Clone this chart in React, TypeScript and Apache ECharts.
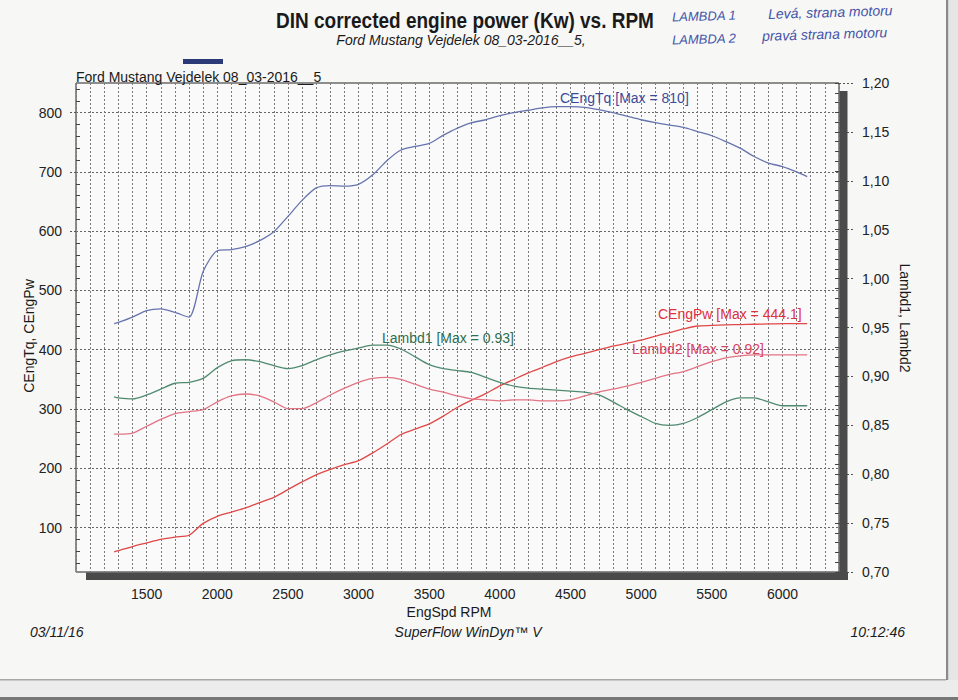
import React, { useEffect, useRef } from "react";
import * as echarts from "echarts";

// ---- data ----
const RPM = [
  1270, 1300, 1400, 1500, 1600, 1700, 1800, 1900, 2000, 2100, 2200, 2300, 2400,
  2500, 2600, 2700, 2800, 2900, 3000, 3100, 3200, 3300, 3400, 3500, 3600, 3700,
  3800, 3900, 4000, 4100, 4200, 4300, 4400, 4500, 4600, 4700, 4800, 4900, 5000,
  5100, 5200, 5300, 5400, 5500, 5600, 5700, 5800, 5900, 6000, 6100, 6175,
];
const CENG_TQ = [
  444, 446, 455, 466, 469, 463, 455, 532, 567, 569, 574, 584, 599, 625, 652, 673,
  677, 676, 679, 695, 719, 737, 743, 748, 762, 774, 783, 788, 795, 800, 804, 808,
  810, 810, 809, 805, 800, 794, 788, 783, 779, 775, 768, 761, 751, 740, 726, 715,
  709, 700, 692,
];
const CENG_PW = [
  59, 61, 68, 74, 80, 84, 87, 107, 119, 126, 133, 142, 151, 164, 177, 189, 198,
  206, 213, 226, 241, 257, 266, 275, 288, 303, 315, 326, 339, 350, 361, 370, 380,
  388, 394, 400, 406, 411, 416, 423, 429, 435, 440, 441, 442, 442.5, 443, 443.5,
  444, 444.1, 444.1,
];
const LAMBD1 = [
  0.879, 0.878, 0.877, 0.881, 0.887, 0.893, 0.894, 0.898, 0.909, 0.916, 0.917,
  0.915, 0.911, 0.908, 0.911, 0.917, 0.922, 0.926, 0.929, 0.932, 0.932, 0.928,
  0.92, 0.912, 0.908, 0.906, 0.904, 0.899, 0.894, 0.89, 0.888, 0.887, 0.886,
  0.885, 0.884, 0.881, 0.874, 0.866, 0.859, 0.852, 0.85, 0.852, 0.858, 0.866,
  0.874, 0.878, 0.878, 0.874, 0.87, 0.87, 0.87,
];
const LAMBD2 = [
  0.841, 0.841, 0.842, 0.849, 0.856, 0.862, 0.864, 0.866, 0.874, 0.88, 0.882,
  0.88, 0.874, 0.867, 0.867, 0.873, 0.881, 0.888, 0.894, 0.898, 0.899, 0.897,
  0.892, 0.887, 0.884, 0.88, 0.877, 0.876, 0.875, 0.876, 0.876, 0.875, 0.875,
  0.876, 0.88, 0.884, 0.887, 0.89, 0.894, 0.898, 0.902, 0.905, 0.91, 0.915,
  0.919, 0.921, 0.922, 0.922, 0.922, 0.922, 0.922,
];
const X_LABELS = [1500, 2000, 2500, 3000, 3500, 4000, 4500, 5000, 5500, 6000];
const LEFT_TICKS = [100, 200, 300, 400, 500, 600, 700, 800];
const LEFT_MINOR = [
  40, 60, 80, 120, 140, 160, 180, 220, 240, 260, 280, 320, 340, 360, 380, 420,
  440, 460, 480, 520, 540, 560, 580, 620, 640, 660, 680, 720, 740, 760, 780, 820,
  840,
];
const SERIES_LABELS = [
  "CEngTq [Max = 810]",
  "CEngPw [Max = 444.1]",
  "Lambd1 [Max = 0.93]",
  "Lambd2 [Max = 0.92]",
];

const FONT = "Liberation Sans, Arial, sans-serif";

const pairs = (ys: number[]) => RPM.map((x, i) => [x, ys[i]]);

const lineSeries = (name: string, ys: number[], color: string, yAxisIndex: number) => ({
  name,
  type: "line",
  data: pairs(ys),
  yAxisIndex,
  showSymbol: false,
  smooth: 0.25,
  lineStyle: { color, width: 1.3 },
  z: 5,
});

const text = (
  t: string,
  x: number,
  y: number,
  font: string,
  fill: string,
  align: string = "left",
  extra: any = {}
) => ({
  type: "text",
  x,
  y,
  silent: true,
  z: 20,
  ...extra,
  style: { text: t, font, fill, textAlign: align, textVerticalAlign: "middle" },
});

export default function App() {
  const ref = useRef<HTMLDivElement>(null);
  useEffect(() => {
    const el = ref.current;
    if (!el) return;
    const chart = echarts.init(el, null, { renderer: "svg" });
    const option: any = {
      animation: false,
      backgroundColor: "#f7f7f6",
      grid: {
        left: 76,
        top: 83,
        width: 763,
        height: 489,
        show: true,
        backgroundColor: "#fafafa",
        borderColor: "#222",
        borderWidth: 1,
      },
      xAxis: {
        type: "value",
        min: 1000,
        max: 6400,
        interval: 100,
        axisLine: { show: false },
        axisTick: { show: false },
        axisLabel: {
          formatter: (v: number) => (X_LABELS.includes(v) ? String(v) : ""),
          margin: 15,
          color: "#222",
          fontSize: 14,
          fontFamily: FONT,
        },
        splitLine: { show: true, lineStyle: { color: "#7a7a7a", type: [2, 2], width: 1 } },
      },
      yAxis: [
        {
          type: "value",
          min: 25,
          max: 850,
          position: "left",
          axisLine: { show: false },
          axisTick: {
            show: true,
            customValues: LEFT_TICKS,
            length: 7,
            lineStyle: { color: "#555", type: [2, 2] },
          },
          axisLabel: {
            customValues: LEFT_TICKS,
            margin: 14,
            color: "#222",
            fontSize: 14,
            fontFamily: FONT,
          },
          splitLine: { show: true, lineStyle: { color: "#666", type: [2, 2], width: 1 } },
        },
        {
          type: "value",
          min: 0.7,
          max: 1.2,
          interval: 0.05,
          position: "right",
          axisLine: { show: false },
          axisTick: { show: true, length: 14, lineStyle: { color: "#555", type: [2, 2] } },
          axisLabel: {
            formatter: (v: number) => v.toFixed(2).replace(".", ","),
            margin: 23,
            color: "#222",
            fontSize: 14,
            fontFamily: FONT,
          },
          splitLine: { show: false },
        },
        {
          type: "value",
          min: 25,
          max: 850,
          position: "left",
          axisLine: { show: false },
          axisTick: {
            show: true,
            inside: true,
            customValues: LEFT_MINOR,
            length: 4,
            lineStyle: { color: "#444" },
          },
          axisLabel: { show: false },
          splitLine: { show: false },
        },
        {
          type: "value",
          min: 0.7,
          max: 1.2,
          interval: 0.01,
          position: "right",
          axisLine: { show: false },
          axisTick: { show: true, inside: true, length: 4, lineStyle: { color: "#444" } },
          axisLabel: { show: false },
          splitLine: { show: false },
        },
      ],
      series: [
        lineSeries("CEngTq", CENG_TQ, "#6674ae", 0),
        lineSeries("CEngPw", CENG_PW, "#e04848", 0),
        lineSeries("Lambd1", LAMBD1, "#4f8a70", 1),
        lineSeries("Lambd2", LAMBD2, "#e27484", 1),
      ],
      graphic: [
        // paper edges
        { type: "rect", shape: { x: 0, y: 680, width: 958, height: 20 }, style: { fill: "#ececec" }, silent: true, z: 1 },
        { type: "rect", shape: { x: 0, y: 679, width: 946, height: 1.5 }, style: { fill: "#a8a8a8" }, silent: true, z: 1 },
        { type: "rect", shape: { x: 0, y: 697, width: 958, height: 3 }, style: { fill: "#777" }, silent: true, z: 1 },
        { type: "rect", shape: { x: 946, y: 0, width: 2.5, height: 680 }, style: { fill: "#8a8a8a" }, silent: true, z: 1 },
        { type: "rect", shape: { x: 948.5, y: 0, width: 9.5, height: 680 }, style: { fill: "#e6e6e6" }, silent: true, z: 1 },
        // box shadow
        { type: "rect", shape: { x: 839.5, y: 91, width: 8, height: 489 }, style: { fill: "#4a4a4a" }, silent: true, z: 2 },
        { type: "rect", shape: { x: 86, y: 572.5, width: 762, height: 7.5 }, style: { fill: "#4a4a4a" }, silent: true, z: 2 },
        // small navy bar
        { type: "rect", shape: { x: 183, y: 59, width: 40, height: 5 }, style: { fill: "#2c3a78" }, silent: true, z: 2 },
        // titles
        text("DIN corrected engine power (Kw) vs. RPM", 465, 20, `bold 19px ${FONT}`, "#1a1a1a", "center", { scaleY: 1.15 }),
        text("Ford Mustang Vejdelek 08_03-2016__5,", 461, 40, `italic 14px ${FONT}`, "#1a1a1a", "center"),
        text("Ford Mustang Vejdelek 08_03-2016__5", 76, 77, `14px ${FONT}`, "#1a1a1a", "left"),
        // handwritten notes
        text("LAMBDA 1", 672, 17, `italic 13px ${FONT}`, "#4554a8", "left", { rotation: 0.03 }),
        text("Levá, strana motoru", 768, 14, `italic 14px ${FONT}`, "#4554a8", "left", { rotation: 0.03 }),
        text("LAMBDA 2", 672, 40, `italic 13px ${FONT}`, "#4554a8", "left", { rotation: 0.03 }),
        text("pravá strana motoru", 762, 36, `italic 14px ${FONT}`, "#4554a8", "left", { rotation: 0.03 }),
        // axis names
        text("CEngTq, CEngPw", 29, 336, `14px ${FONT}`, "#1a1a1a", "center", { rotation: Math.PI / 2 }),
        text("Lambd1, Lambd2", 905, 318, `14px ${FONT}`, "#1a1a1a", "center", { rotation: -Math.PI / 2 }),
        text("EngSpd RPM", 449, 612, `14px ${FONT}`, "#1a1a1a", "center"),
        // series labels
        text(SERIES_LABELS[0], 560, 98, `14px ${FONT}`, "#3c4a98", "left"),
        text(SERIES_LABELS[1], 658, 314, `14px ${FONT}`, "#e0303c", "left"),
        text(SERIES_LABELS[2], 382, 338, `14px ${FONT}`, "#2f6e50", "left"),
        text(SERIES_LABELS[3], 632, 349, `14px ${FONT}`, "#d84462", "left"),
        // footer
        text("03/11/16", 30, 632, `italic 14px ${FONT}`, "#1a1a1a", "left"),
        text("SuperFlow WinDyn™ V", 468, 632, `italic 14px ${FONT}`, "#1a1a1a", "center"),
        text("10:12:46", 905, 632, `italic 14px ${FONT}`, "#1a1a1a", "right"),
      ],
    };
    chart.setOption(option);
    return () => chart.dispose();
  }, []);
  return (
    <div
      ref={ref}
      style={{ position: "fixed", left: 0, top: 0, width: 958, height: 700 }}
    />
  );
}
